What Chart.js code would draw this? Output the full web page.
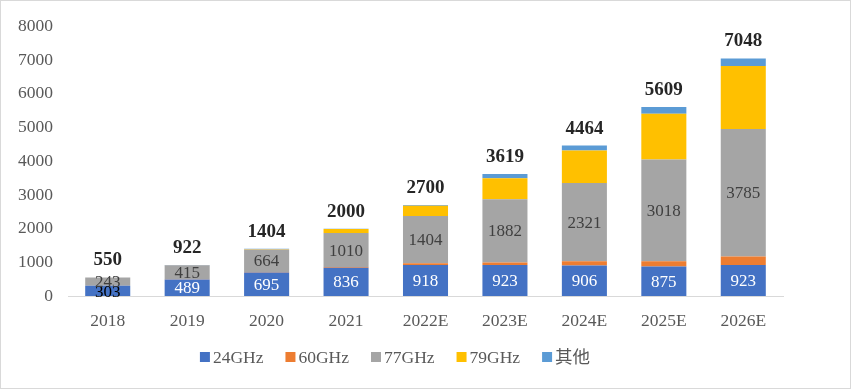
<!DOCTYPE html>
<html>
<head>
<meta charset="utf-8">
<script src="https://cdn.jsdelivr.net/npm/chart.js@4/dist/chart.umd.min.js"></script>
<style>
html,body{margin:0;padding:0;background:#fff;}
#wrap{width:851px;height:389px;box-sizing:border-box;border:1px solid #d9d9d9;position:relative;}
canvas{display:block;}
</style>
</head>
<body>
<div id="wrap"><canvas id="c" width="849" height="387"></canvas></div>
<script>
const categories = ['2018','2019','2020','2021','2022E','2023E','2024E','2025E','2026E'];
const s24 = [303, 489, 695, 836, 918, 923, 906, 875, 923];
const s60 = [0, 10, 20, 22, 55, 70, 125, 160, 253];
const s77 = [243, 415, 664, 1010, 1404, 1882, 2321, 3018, 3785];
const s79 = [0, 0, 15, 118, 300, 620, 965, 1360, 1863];
const sOther = [4, 8, 10, 14, 23, 124, 147, 196, 224];
const totals = [550, 922, 1404, 2000, 2700, 3619, 4464, 5609, 7048];
const yTicks = [0,1000,2000,3000,4000,5000,6000,7000,8000];

const FONT = '"Liberation Serif", "Times New Roman", "Noto Sans CJK SC", serif';

const labelPlugin = {
  id: 'labels',
  afterDatasetsDraw(chart) {
    const ctx = chart.ctx;
    ctx.save();
    ctx.textAlign = 'center';
    ctx.textBaseline = 'middle';
    [[0,'#ffffff'],[2,'#404040']].forEach(([di, col]) => {
      const meta = chart.getDatasetMeta(di);
      const data = chart.data.datasets[di].data;
      meta.data.forEach((el, i) => {
        const p = el.getProps(['x','y','base'], true);
        const first = (di === 0 && i === 0);
        ctx.fillStyle = first ? '#000000' : col;
        ctx.font = '17px ' + FONT;
        ctx.fillText(String(data[i]), p.x, (p.y + p.base) / 2 + (first ? 2 : 1));
      });
    });
    const ys = chart.scales.y;
    const xs = chart.scales.x;
    ctx.fillStyle = '#262626';
    ctx.font = 'bold 19px ' + FONT;
    totals.forEach((t, i) => {
      const x = xs.getPixelForValue(i);
      const y = ys.getPixelForValue(t);
      ctx.fillText(String(t), x, y - 17);
    });
    // custom legend
    const ds = chart.data.datasets;
    ctx.font = '17.5px ' + FONT;
    const box = 10, gap = 3, spacing = 22;
    const widths = ds.map(d => box + gap + ctx.measureText(d.label).width);
    const total = widths.reduce((a, b) => a + b, 0) + spacing * (ds.length - 1);
    let x = 394 - total / 2;
    const ly = 356;
    ctx.textAlign = 'left';
    ds.forEach((d, i) => {
      ctx.fillStyle = d.backgroundColor;
      ctx.fillRect(x, ly - box / 2, box, box);
      ctx.fillStyle = '#595959';
      ctx.fillText(d.label, x + box + gap, ly + 1);
      x += widths[i] + spacing;
    });
    ctx.restore();
  }
};

const mk = (label, data, color) => ({
  label, data, backgroundColor: color, borderWidth: 0,
  barPercentage: 0.567, categoryPercentage: 1.0
});

new Chart(document.getElementById('c'), {
  type: 'bar',
  data: {
    labels: categories,
    datasets: [
      mk('24GHz', s24, '#4472C4'),
      mk('60GHz', s60, '#ED7D31'),
      mk('77GHz', s77, '#A5A5A5'),
      mk('79GHz', s79, '#FFC000'),
      mk('其他', sOther, '#5B9BD5')
    ]
  },
  options: {
    responsive: false,
    animation: false,
    devicePixelRatio: 1,
    layout: { padding: { left: 0, right: 67, top: 16, bottom: 52 } },
    plugins: {
      legend: { display: false },
      tooltip: { enabled: false }
    },
    scales: {
      x: {
        stacked: true,
        afterFit(scale) { scale.height = 40; },
        grid: { display: false, drawTicks: false },
        border: { display: true, color: '#d9d9d9', width: 1 },
        ticks: { color: '#595959', font: { family: FONT, size: 17.5 }, padding: 15 }
      },
      y: {
        stacked: true,
        min: 0, max: 8000,
        afterBuildTicks(scale) { scale.ticks = yTicks.map(v => ({ value: v })); },
        afterFit(scale) { scale.width = 67; },
        grid: { display: false, drawTicks: false },
        border: { display: false },
        ticks: { color: '#595959', font: { family: FONT, size: 17.5 }, padding: 15,
                 callback: (v) => String(v) }
      }
    }
  },
  plugins: [labelPlugin]
});
</script>
</body>
</html>
